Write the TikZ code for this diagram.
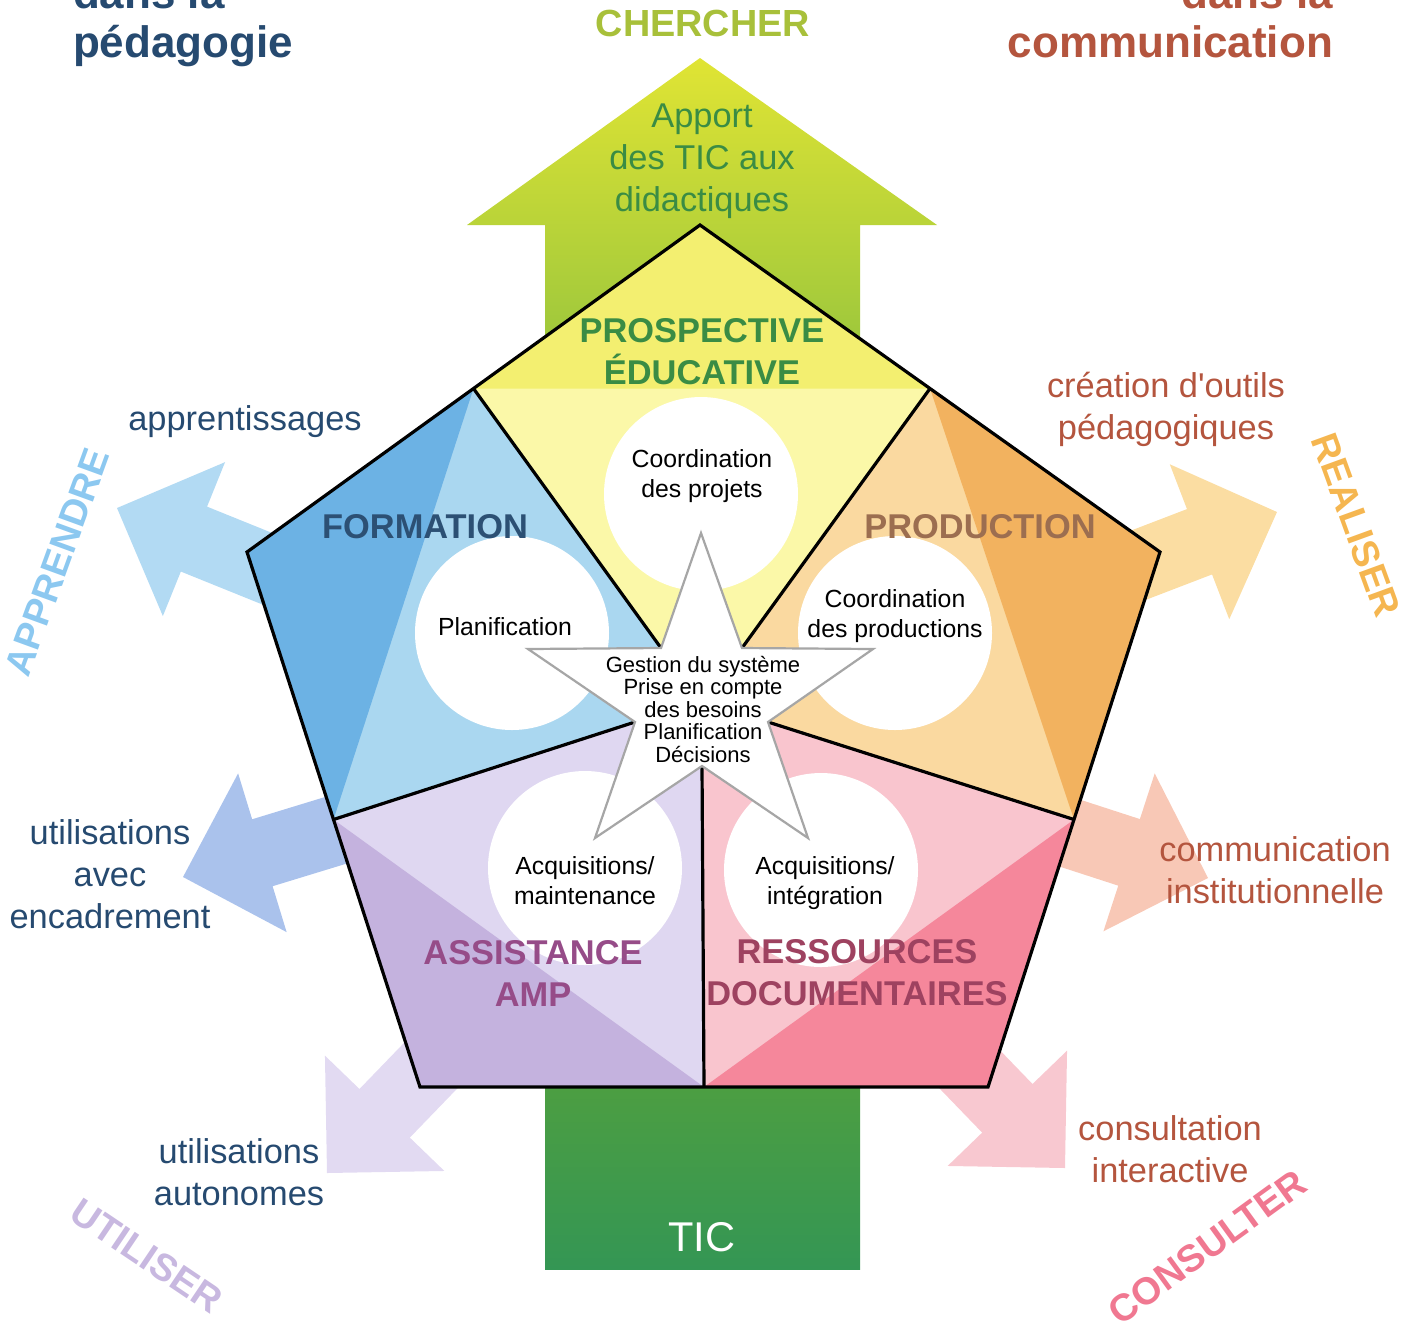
\documentclass[tikz,border=0pt]{standalone}
\usepackage{fontspec}
\setmainfont{Liberation Sans}[Ligatures=TeXOff]
\usepackage{tikz}
\usetikzlibrary{positioning}

\definecolor{navytext}{RGB}{38,74,112}
\definecolor{rusttext}{RGB}{180,85,62}
\definecolor{greentext}{RGB}{58,140,68}
\definecolor{chercher}{RGB}{168,192,58}
\definecolor{formtext}{RGB}{44,80,116}
\definecolor{prodtext}{RGB}{156,110,80}
\definecolor{assisttext}{RGB}{150,76,136}
\definecolor{resstext}{RGB}{158,66,96}
\definecolor{yelDark}{RGB}{243,239,112}
\definecolor{yelLight}{RGB}{251,248,168}
\definecolor{bluDark}{RGB}{108,178,228}
\definecolor{bluLight}{RGB}{170,215,240}
\definecolor{ornDark}{RGB}{242,178,95}
\definecolor{ornLight}{RGB}{250,217,160}
\definecolor{purDark}{RGB}{196,178,222}
\definecolor{purLight}{RGB}{223,215,241}
\definecolor{pnkDark}{RGB}{245,135,155}
\definecolor{pnkLight}{RGB}{249,197,206}
\definecolor{upTop}{RGB}{224,228,52}
\definecolor{upBot}{RGB}{140,192,62}
\definecolor{ticTop}{RGB}{76,158,66}
\definecolor{ticBot}{RGB}{52,150,84}
\definecolor{arrBlue}{RGB}{178,218,243}
\definecolor{arrPeri}{RGB}{170,194,236}
\definecolor{arrLav}{RGB}{226,218,242}
\definecolor{arrPink}{RGB}{248,200,208}
\definecolor{arrSalm}{RGB}{248,200,182}
\definecolor{arrOrng}{RGB}{251,221,162}
\definecolor{apprendre}{RGB}{140,200,240}
\definecolor{realiser}{RGB}{245,182,80}
\definecolor{utiliser}{RGB}{200,184,224}
\definecolor{consulter}{RGB}{240,120,145}

\begin{document}
\begin{tikzpicture}[x=0.5pt, y=-0.5pt,
    outer label/.style={align=center, font=\fontsize{17.2}{21}\selectfont},
    pole/.style={align=center, font=\fontsize{17.2}{21}\selectfont\bfseries},
    disc label/.style={align=center, font=\fontsize{12.4}{15}\selectfont},
    verb/.style={font=\fontsize{19}{22}\selectfont\bfseries},
    corner/.style={font=\fontsize{22}{26}\selectfont\bfseries},
    disc/.style={circle, fill=white, minimum size=97pt, inner sep=0pt},
    divider/.style={line width=1.6pt, black}
    ]
\useasboundingbox (0,0) rectangle (1413,1330);
\clip (0,0) rectangle (1413,1330);

% side arrows (behind the pentagon)
\begin{scope}[shift={(117,508)}, rotate=158]
  \fill[arrBlue] (0,0) -- (-83,83) -- (-83,35) -- (-223,35) -- (-223,-35) -- (-83,-35) -- (-83,-83) -- cycle;
\end{scope}
\begin{scope}[shift={(183,877)}, rotate=197]
  \fill[arrPeri] (0,0) -- (-83,83) -- (-83,35) -- (-223,35) -- (-223,-35) -- (-83,-35) -- (-83,-83) -- cycle;
\end{scope}
\begin{scope}[shift={(327,1173)}, rotate=226]
  \fill[arrLav] (0,0) -- (-83,83) -- (-83,35) -- (-223,35) -- (-223,-35) -- (-83,-35) -- (-83,-83) -- cycle;
\end{scope}
\begin{scope}[shift={(1065,1168)}, rotate=-46]
  \fill[arrPink] (0,0) -- (-83,83) -- (-83,35) -- (-223,35) -- (-223,-35) -- (-83,-35) -- (-83,-83) -- cycle;
\end{scope}
\begin{scope}[shift={(1208,878)}, rotate=-18]
  \fill[arrSalm] (0,0) -- (-83,83) -- (-83,35) -- (-223,35) -- (-223,-35) -- (-83,-35) -- (-83,-83) -- cycle;
\end{scope}
\begin{scope}[shift={(1277,512)}, rotate=21]
  \fill[arrOrng] (0,0) -- (-83,83) -- (-83,35) -- (-223,35) -- (-223,-35) -- (-83,-35) -- (-83,-83) -- cycle;
\end{scope}

% big arrow and TIC base
\shade[top color=upTop, bottom color=upBot] (700,58) -- (937,225) -- (860,225) -- (860,420) -- (545,420) -- (545,225) -- (467,225) -- cycle;
\shade[top color=ticTop, bottom color=ticBot] (545,1087) rectangle (860,1269);

% pentagon
\coordinate (pTop) at (700,225);
\coordinate (pLeft) at (247,552);
\coordinate (pBotL) at (420,1087);
\coordinate (pBotR) at (988,1087);
\coordinate (pRight) at (1160,552);
\coordinate (mTL) at (473.5,388.5);
\coordinate (mLB) at (333.5,819.5);
\coordinate (mBot) at (704,1087);
\coordinate (mBR) at (1074,819.5);
\coordinate (mTR) at (930,388.5);
% star
\coordinate (sTop) at (701,533);
\coordinate (sRight) at (873,649);
\coordinate (sLR) at (808,838);
\coordinate (sLL) at (595,838);
\coordinate (sLeft) at (528,649);
\coordinate (iTL) at (661,648);
\coordinate (iTR) at (742,648);
\coordinate (iR) at (768,722);
\coordinate (iB) at (702,766);
\coordinate (iL) at (635,722);

\fill[yelLight] (pTop) -- (mTL) -- (iTL) -- (iTR) -- (mTR) -- cycle;
\fill[yelDark] (pTop) -- (mTL) -- (mTR) -- cycle;
\fill[bluLight] (mTL) -- (pLeft) -- (mLB) -- (iL) -- (iTL) -- cycle;
\fill[bluDark] (mTL) -- (pLeft) -- (mLB) -- cycle;
\fill[purLight] (mLB) -- (pBotL) -- (mBot) -- (iB) -- (iL) -- cycle;
\fill[purDark] (mLB) -- (pBotL) -- (mBot) -- cycle;
\fill[pnkLight] (mBot) -- (pBotR) -- (mBR) -- (iR) -- (iB) -- cycle;
\fill[pnkDark] (mBot) -- (pBotR) -- (mBR) -- cycle;
\fill[ornLight] (mBR) -- (pRight) -- (mTR) -- (iTR) -- (iR) -- cycle;
\fill[ornDark] (mBR) -- (pRight) -- (mTR) -- cycle;

\draw[divider] (mTL) -- (iTL) (mTR) -- (iTR) (mLB) -- (iL) (mBR) -- (iR) (mBot) -- (iB);
\draw[divider, line join=miter] (pTop) -- (pLeft) -- (pBotL) -- (pBotR) -- (pRight) -- cycle;

\node[disc] (cProj) at (701,494) {};
\node[disc] (cPlan) at (512,633) {};
\node[disc] (cProd) at (895,633) {};
\node[disc] (cMaint) at (585,868) {};
\node[disc] (cInteg) at (821,870) {};

\filldraw[fill=white, draw=black!35, line width=1.1pt] (sTop) -- (iTR) -- (sRight) -- (iR) -- (sLR) -- (iB) -- (sLL) -- (iL) -- (sLeft) -- (iTL) -- cycle;

% texts
\node[disc label] (tProj) at (702,476) {Coordination\\des projets};
\node[disc label] (tPlan) at (505,627) {Planification};
\node[disc label] (tProd) at (895,616) {Coordination\\des productions};
\node[disc label] (tMaint) at (585,881) {Acquisitions/\\maintenance};
\node[disc label] (tInteg) at (825,883) {Acquisitions/\\intégration};
\node[align=center, font=\fontsize{11}{11.25}\selectfont] (gestion) at (703,709)
  {Gestion du système\\Prise en compte\\des besoins\\Planification\\Décisions};

\node[pole, text=greentext] (prosp) at (702,352) {PROSPECTIVE\\ÉDUCATIVE};
\node[pole, text=formtext] (form) at (425,527) {FORMATION};
\node[pole, text=prodtext] (prod) at (980,527) {PRODUCTION};
\node[pole, text=assisttext] (assist) at (533,973) {ASSISTANCE\\AMP};
\node[pole, text=resstext] (ress) at (857,973) {RESSOURCES\\DOCUMENTAIRES};

\node[outer label, text=greentext] (apport) at (702,161) {Apport\\des TIC aux\\didactiques};
\node[font=\fontsize{20.8}{24}\selectfont, text=white] (tic) at (702,1237) {TIC};
\node[font=\fontsize{18.9}{22}\selectfont\bfseries, text=chercher] (cherch) at (703,23) {CHERCHER};

\node[outer label, text=navytext] (appr) at (245,422) {apprentissages};
\node[outer label, text=navytext] (utilEnc) at (110,874) {utilisations\\avec\\encadrement};
\node[outer label, text=navytext] (utilAuto) at (239,1172) {utilisations\\autonomes};
\node[outer label, text=rusttext] (creation) at (1166,409) {création d'outils\\pédagogiques};
\node[outer label, text=rusttext] (commInst) at (1275,870) {communication\\institutionnelle};
\node[outer label, text=rusttext] (consult) at (1170,1149) {consultation\\interactive};

\node[corner, text=navytext, anchor=base west] (pedago) at (66,57) {pédagogie};
\node[corner, text=navytext, anchor=base west] (dansG) at (66,8) {dans la};
\node[corner, text=rusttext, anchor=base east] (commu) at (1340,57) {communication};
\node[corner, text=rusttext, anchor=base east] (dansD) at (1340,8) {dans la};

\node[verb, text=apprendre, rotate=70] (apprendre) at (57,562) {APPRENDRE};
\node[verb, text=realiser, rotate=-70] (realiser) at (1356,525) {REALISER};
\node[verb, text=utiliser, rotate=-34] (utiliser) at (147,1256) {UTILISER};
\node[verb, text=consulter, rotate=36] (consulter) at (1207,1247) {CONSULTER};
\end{tikzpicture}
\end{document}
